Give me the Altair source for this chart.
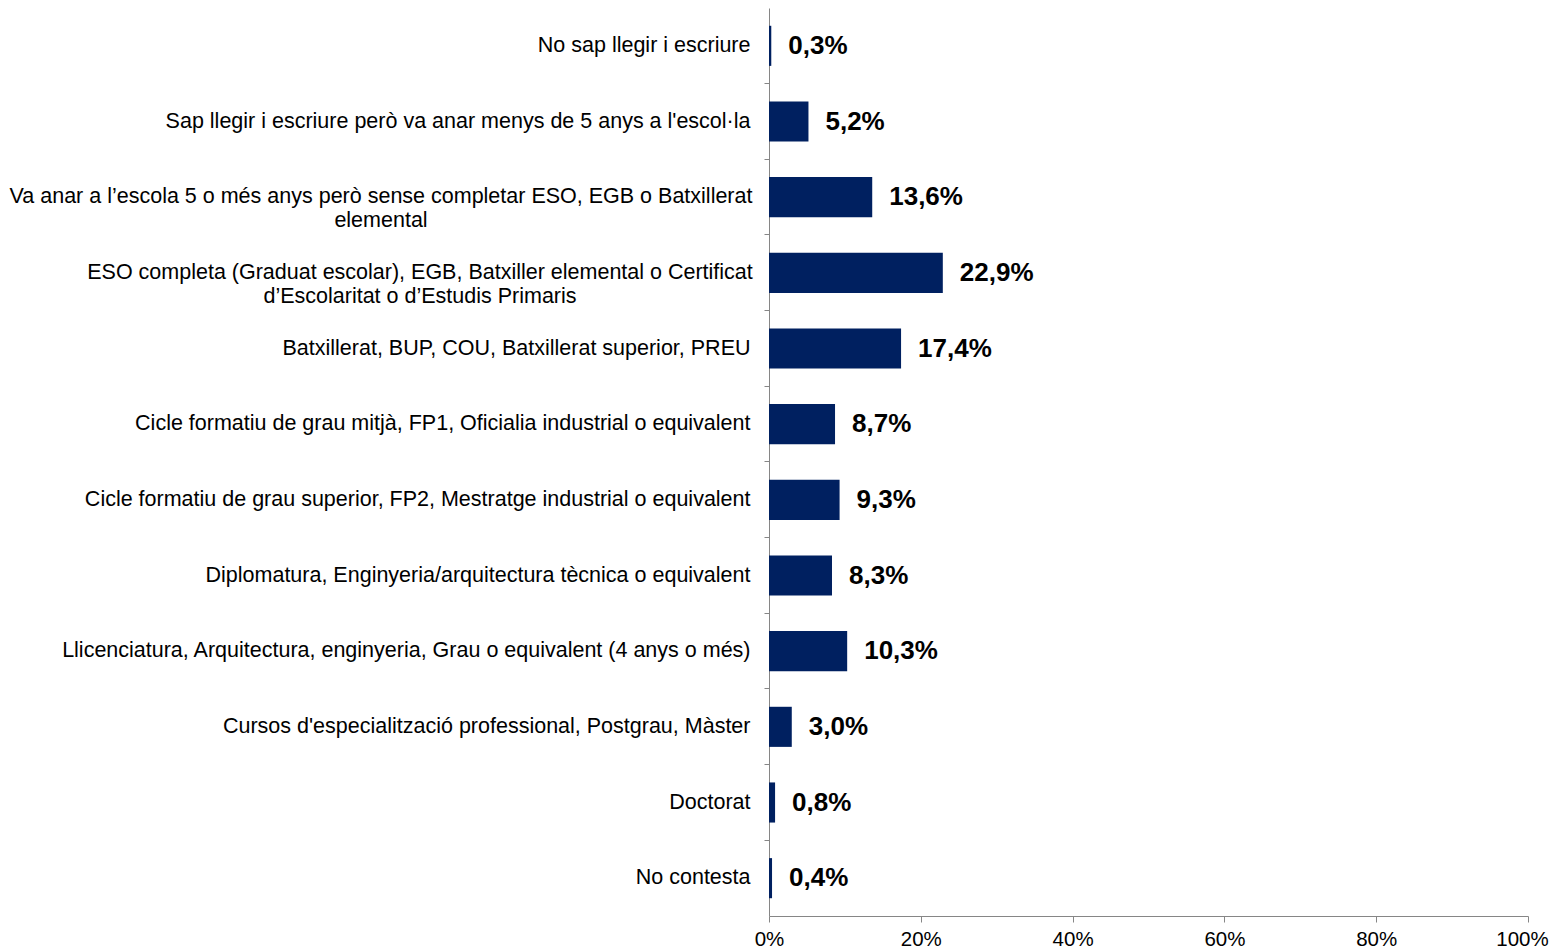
import altair as alt
import pandas as pd

categories = [
    "No sap llegir i escriure",
    "Sap llegir i escriure però va anar menys de 5 anys a l'escol·la",
    "Va anar a l’escola 5 o més anys però sense completar ESO, EGB o Batxillerat\nelemental",
    "ESO completa (Graduat escolar), EGB, Batxiller elemental o Certificat\nd’Escolaritat o d’Estudis Primaris",
    "Batxillerat, BUP, COU, Batxillerat superior, PREU",
    "Cicle formatiu de grau mitjà, FP1, Oficialia industrial o equivalent",
    "Cicle formatiu de grau superior, FP2, Mestratge industrial o equivalent",
    "Diplomatura, Enginyeria/arquitectura tècnica o equivalent",
    "Llicenciatura, Arquitectura, enginyeria, Grau o equivalent (4 anys o més)",
    "Cursos d'especialització professional, Postgrau, Màster",
    "Doctorat",
    "No contesta",
]
values = [0.3, 5.2, 13.6, 22.9, 17.4, 8.7, 9.3, 8.3, 10.3, 3.0, 0.8, 0.4]
x_ticks = [0, 20, 40, 60, 80, 100]

df = pd.DataFrame({"cat": categories, "v": values})

FONT = "Liberation Sans"
GRAY = "#868686"

y_scale = alt.Scale(domain=categories, paddingInner=0.47, paddingOuter=0.235)

common_label = dict(
    labelFont=FONT,
    labelFontSize=21.5,
    labelColor="#000000",
    labelLimit=900,
    labelLineHeight=24,
    grid=False,
    orient="left",
    tickSize=5,
    bandPosition=-0.444,
)

main_axis = alt.Axis(
    labelExpr="indexof(datum.label, '\\n') >= 0 ? '' : datum.label",
    labelAlign="right",
    labelPadding=14,
    tickColor=GRAY,
    domainColor=GRAY,
    **common_label,
)

axis_va = alt.Axis(
    labelExpr="indexof(datum.label, 'Va anar') == 0 ? split(datum.label, '\\n') : ''",
    labelAlign="center",
    labelPadding=383.5,
    tickOpacity=0,
    domain=False,
    **common_label,
)

axis_eso = alt.Axis(
    labelExpr="indexof(datum.label, 'ESO completa') == 0 ? split(datum.label, '\\n') : ''",
    labelAlign="center",
    labelPadding=344.5,
    tickOpacity=0,
    domain=False,
    **common_label,
)

x_enc = alt.X(
    "v:Q",
    title=None,
    scale=alt.Scale(domain=[0, 100], nice=False),
    axis=alt.Axis(
        values=x_ticks,
        labelExpr="datum.value + '%'",
        labelFont=FONT,
        labelFontSize=20.5,
        labelColor="#000000",
        labelPadding=7,
        labelOffset={"condition": {"test": "datum.value == 100", "value": -6}, "value": 0},
        tickSize=6,
        tickColor=GRAY,
        domainColor=GRAY,
        grid=False,
        labelFlush=False,
    ),
)

base = alt.Chart(df)

bars = base.mark_bar(color="#002060").encode(
    x=x_enc,
    y=alt.Y("cat:N", sort=None, title=None, scale=y_scale, axis=main_axis),
)

text_style = dict(
    align="left",
    baseline="middle",
    dx=17,
    font=FONT,
    fontSize=26,
    fontWeight="bold",
    color="#000000",
)

labels_a = (
    base.transform_filter("indexof(datum.cat, 'ESO completa') != 0")
    .transform_calculate(txt="replace(format(datum.v, '.1f'), '.', ',') + '%'")
    .mark_text(**text_style)
    .encode(
        x=x_enc,
        y=alt.Y("cat:N", sort=None, title=None, scale=y_scale, axis=axis_va),
        text="txt:N",
    )
)

labels_b = (
    base.transform_filter("indexof(datum.cat, 'ESO completa') == 0")
    .transform_calculate(txt="replace(format(datum.v, '.1f'), '.', ',') + '%'")
    .mark_text(**text_style)
    .encode(
        x=x_enc,
        y=alt.Y("cat:N", sort=None, title=None, scale=y_scale, axis=axis_eso),
        text="txt:N",
    )
)

chart = (
    alt.layer(bars, labels_a, labels_b)
    .resolve_axis(y="independent")
    .properties(
        width=759,
        height=908,
        background="#ffffff",
        autosize=alt.AutoSizeParams(type="none"),
        padding={"left": 761, "top": 0, "right": 21, "bottom": 34},
    )
    .configure_view(stroke="transparent", strokeWidth=0)
)

chart.save("out.html", embed_options={"renderer": "svg", "actions": False})
